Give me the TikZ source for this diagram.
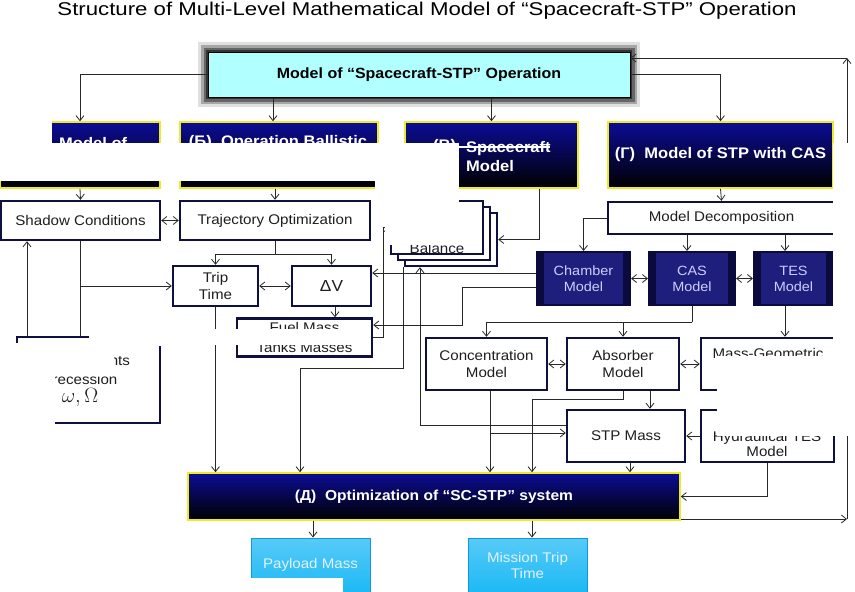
\documentclass[tikz,border=0pt]{standalone}
\usepackage{fontspec}
\setmainfont[FakeStretch=1.08]{Liberation Sans}
\newfontfamily\titlefont[FakeStretch=1.2]{Liberation Sans}
\usetikzlibrary{arrows.meta, calc}
\definecolor{NavyEdge}{RGB}{16,16,64}
\definecolor{HeadBlue}{RGB}{12,12,150}
\definecolor{HeadYellow}{RGB}{235,235,40}
\definecolor{SubNavy}{RGB}{30,30,125}
\definecolor{SubDark}{RGB}{10,10,60}
\definecolor{SubText}{RGB}{205,205,255}
\definecolor{TopCyan}{RGB}{178,255,255}
\definecolor{OutCyan}{RGB}{30,185,245}
\definecolor{OutEdge}{RGB}{20,150,215}
\definecolor{OutText}{RGB}{228,242,255}
\definecolor{WireGray}{RGB}{40,40,40}
\definecolor{BoxText}{RGB}{30,30,30}
\tikzset{
    % Connector line
    wire/.style={line width=0.8pt, color=WireGray},
    % Arrow style
    arrow/.style={wire, -{Straight Barb[length=5pt,width=8pt]}},
    % Two-way arrow
    dblarrow/.style={wire, {Straight Barb[length=5pt,width=8pt]}-{Straight Barb[length=5pt,width=8pt]}},
    % Plain model box
    wbox/.style={
        rectangle,
        draw=NavyEdge,
        fill=white,
        line width=2.4pt,
        inner sep=0pt,
        align=center,
        text=BoxText,
        font=\fontsize{14}{16.5}\selectfont
    },
    % Level header box
    hbox/.style={
        rectangle,
        draw=HeadYellow,
        line width=1.6pt,
        top color=HeadBlue,
        bottom color=black,
        inner sep=0pt,
        align=center,
        text=white,
        font=\fontsize{15.3}{18}\selectfont\bfseries
    },
    % Header text
    htext/.style={inner sep=0pt, text=white, font=\fontsize{15.3}{19}\selectfont\bfseries},
    % Submodel box
    sbox/.style={
        rectangle,
        draw=SubDark,
        fill=SubNavy,
        line width=2pt,
        inner sep=0pt,
        align=center,
        text=SubText,
        font=\fontsize{13.4}{16}\selectfont,
        path picture={
            \fill[SubDark] (path picture bounding box.south west) rectangle ([xshift=7pt]path picture bounding box.north west);
            \fill[SubDark] (path picture bounding box.south east) rectangle ([xshift=-7pt]path picture bounding box.north east);
        }
    },
    % Top model box
    topbox/.style={
        rectangle,
        draw=black,
        fill=TopCyan,
        line width=1pt,
        inner sep=0pt,
        preaction={draw=black!12, line width=20pt, rounded corners=4pt},
        preaction={draw=black!35, line width=14pt, rounded corners=3pt},
        preaction={draw=black!60, line width=9pt, rounded corners=2pt},
        preaction={draw=black!80, line width=4pt},
        text=black,
        font=\fontsize{14.8}{17}\selectfont\bfseries
    },
    % Output box
    cbox/.style={
        rectangle,
        draw=OutEdge,
        line width=1pt,
        top color=OutCyan!75!white,
        bottom color=OutCyan,
        inner sep=0pt,
        align=center,
        text=OutText,
        font=\fontsize{14}{16}\selectfont
    },
    % White patch hiding parts of the picture
    mask/.style={fill=white, draw=none}
}
\begin{document}
\begin{tikzpicture}[x=1pt, y=-1pt]
    \useasboundingbox (0,0) rectangle (855,592);

    \node (title) [font=\titlefont\fontsize{18.5}{20}\selectfont] at (427,11) {Structure of Multi-Level Mathematical Model of “Spacecraft-STP” Operation};

    % Top level
    \node (top) [topbox, minimum width=422pt, minimum height=45pt] at (419,74.5) {Model of “Spacecraft-STP” Operation};

    % Level headers
    \node (modA) [hbox, minimum width=160pt, minimum height=66pt] at (80,155) {};
    \node (modAtxt) [htext, anchor=west] at (59,143) {Model of};
    \node (modB) [hbox, minimum width=198pt, minimum height=66pt] at (279,155) {};
    \node (modBtxt) [htext] at (278,143) {(Б)\ \ Operation Ballistic};
    \node (modC) [hbox, minimum width=173pt, minimum height=66pt] at (491.5,155) {};
    \node (modCtag) [htext, anchor=west] at (433,147) {(В)};
    \node (modCtxt) [htext, anchor=west, align=left] at (466,156.5) {Spacecraft\\Model};
    \node (modG) [hbox, minimum width=225pt, minimum height=66pt] at (720.5,155) {(Г)\ \ Model of STP with CAS};

    % Ballistic branch
    \node (shadow) [wbox, minimum width=159pt, minimum height=39pt] at (80.5,220.5) {Shadow Conditions};
    \node (traj) [wbox, minimum width=190pt, minimum height=39pt] at (275,220.5) {Trajectory Optimization};
    \node (trip) [wbox, minimum width=85pt, minimum height=40pt] at (215.5,286) {Trip\\Time};
    \node (dv) [wbox, minimum width=79pt, minimum height=40pt, font=\fontsize{16}{18}\selectfont] at (331.5,286) {ΔV};
    \node (fuel) [wbox, minimum width=135pt, minimum height=38pt, font=\fontsize{14}{20.5}\selectfont] at (304.5,337.5) {Fuel Mass\\Tanks Masses};
    \node (elem) [wbox, minimum width=143pt, minimum height=86pt] at (88.5,380) {};
    \node (elemtxt) [font=\fontsize{14}{18.5}\selectfont, align=center, text=BoxText] at (80,381) {Orbit Elements\\Precession\\{\fontsize{20}{18.5}\selectfont$\omega,\Omega$}};

    % Balance stack
    \node (bal3) [wbox, minimum width=92pt, minimum height=53pt] at (451,239.5) {};
    \node (bal2) [wbox, minimum width=92pt, minimum height=53pt] at (444,233.5) {};
    \node (bal1) [wbox, minimum width=92pt, minimum height=53pt] at (437,227.5) {};
    \node (baltxt) [font=\fontsize{14}{16}\selectfont, text=BoxText] at (437,248) {Balance};

    % STP branch
    \node (md) [wbox, minimum width=227pt, minimum height=32pt] at (721.5,218) {Model Decomposition};
    \node (chamber) [sbox, minimum width=93pt, minimum height=53pt] at (583.5,278.5) {Chamber\\Model};
    \node (cas) [sbox, minimum width=86pt, minimum height=53pt] at (692,278.5) {CAS\\Model};
    \node (tes) [sbox, minimum width=79pt, minimum height=53pt] at (793.5,278.5) {TES\\Model};
    \node (conc) [wbox, minimum width=121pt, minimum height=52pt] at (486.5,364) {Concentration\\Model};
    \node (abs) [wbox, minimum width=112pt, minimum height=52pt] at (623,364) {Absorber\\Model};
    \node (mg) [wbox, minimum width=136pt, minimum height=52pt] at (769,364) {};
    \node (mgtxt) [font=\fontsize{14}{16}\selectfont, text=BoxText] at (768,353) {Mass-Geometric};
    \node (stp) [wbox, minimum width=118pt, minimum height=52pt] at (626,436) {STP Mass};
    \node (hyd) [wbox, minimum width=133pt, minimum height=52pt] at (767.5,436) {};
    \node (hydtxt) [font=\fontsize{14}{15.5}\selectfont, align=center, text=BoxText] at (767,444) {Hydraulical TES\\Model};

    % Optimization and results
    \node (opt) [hbox, minimum width=492pt, minimum height=47pt, font=\fontsize{14.4}{18}\selectfont\bfseries] at (434,496.5) {(Д)\ \ Optimization of “SC-STP” system};
    \node (payload) [cbox, minimum width=119pt, minimum height=54pt] at (310.5,565) {Payload Mass};
    \node (mission) [cbox, minimum width=119pt, minimum height=54pt] at (527.5,565) {Mission Trip\\Time};

    % Top level links
    \draw[arrow] (top.west) -| (modA.north);
    \draw[arrow] (273,0 |- top.south) -- (273,0 |- modB.north);
    \draw[arrow] (top.south -| modC.north) -- (modC.north);
    \draw[arrow] (top.east) -| (modG.north);

    % Ballistic links
    \draw[arrow] (modA.south) -- (shadow.north);
    \draw[arrow] (modB.south -| traj.north) -- (traj.north);
    \draw[dblarrow] (shadow) -- (traj);
    \draw[wire] (traj.south) -- ++(0,13) coordinate (tsplit);
    \draw[arrow] (tsplit) -| (trip.north);
    \draw[arrow] (tsplit) -| (dv.north);
    \draw[dblarrow] (trip) -- (dv);
    \draw[arrow] (335,0 |- dv.south) -- (335,0 |- fuel.north);
    \draw[wire] (shadow.south) -- (shadow.south |- elem.north);
    \draw[arrow] (shadow.south |- trip.west) -- (trip.west);
    \draw[arrow] (27,0 |- elem.north) -- (27,0 |- shadow.south);
    \draw[arrow] (trip.south) -- (trip.south |- opt.north);
    \draw[arrow] (fuel.east) -- ++(10,0) |- (bal1.west);
    \draw[arrow] (539,0 |- modC.south) |- (bal3.east);
    \draw[arrow] (bal3.south west) -- ++(0,101) -| (300,0 |- opt.north);
    \draw[arrow] (stp.west |- 0,425) -| (420,0 |- bal3.south);
    \draw[arrow] (chamber.west |- 0,273) -- (dv.east |- 0,273);
    \draw[arrow] (chamber.west |- 0,287) -- ++(-74,0) |- (fuel.east |- 0,325);

    % STP links
    \draw[arrow] (modG.south) -- (md.north);
    \draw[arrow] (md.west) -| (chamber.north);
    \draw[arrow] (687,0 |- md.south) -- (687,0 |- cas.north);
    \draw[arrow] (785,0 |- md.south) -- (785,0 |- tes.north);
    \draw[dblarrow] (chamber) -- (cas);
    \draw[dblarrow] (cas) -- (tes);
    \draw[wire] (cas.south) -- ++(0,16) coordinate (csplit);
    \draw[arrow] (csplit) -| (conc.north);
    \draw[arrow] (csplit) -| (abs.north);
    \draw[arrow] (785,0 |- tes.south) -- (785,0 |- mg.north);
    \draw[dblarrow] (conc) -- (abs);
    \draw[dblarrow] (abs) -- (mg);
    \draw[arrow] (650,0 |- abs.south) -- (650,0 |- stp.north);
    \draw[arrow] (hyd.west) -- (stp.east);
    \draw[arrow] (abs.south) -- ++(0,8) -| (532,0 |- opt.north);
    \draw[arrow] (490,0 |- conc.south) -- (490,0 |- opt.north);
    \coordinate (cbr) at (490,433);
    \draw[arrow] (cbr) -- (stp.west |- cbr);
    \draw[arrow] (630,0 |- stp.south) -- (630,0 |- opt.north);
    \draw[arrow] (hyd.south) |- (opt.east);

    % Results and feedback
    \draw[arrow] (313,0 |- opt.south) -- (313,0 |- payload.north);
    \draw[arrow] (532,0 |- opt.south) -- (532,0 |- mission.north);
    \coordinate (fbl) at (847,519);
    \coordinate (fbt) at (847,58);
    \draw[arrow] (opt.south east |- fbl) -- (fbl);
    \draw[arrow] (fbl) -- (fbt);
    \draw[arrow] (fbt) -- (top.east |- fbt);

    % White patches
    \fill[mask] (0,108) rectangle (52,143);
    \fill[mask] (0,143) rectangle (458,181);
    \fill[mask] (430,145.5) rectangle (550,147.5);
    \fill[mask] (385,143) rectangle (459,245);
    \fill[mask] (375,143) rectangle (385,226);
    \fill[mask] (205,329) rectangle (369,345);
    \fill[mask] (89,331) rectangle (175,346);
    \fill[mask] (0,343) rectangle (55,432);
    \fill[mask] (55,343) rectangle (114,375);
    \fill[mask] (717,356) rectangle (855,436);
    \fill[mask] (833,143) rectangle (855,436);
    \fill[mask] (251,578) rectangle (343,592);
\end{tikzpicture}
\end{document}
